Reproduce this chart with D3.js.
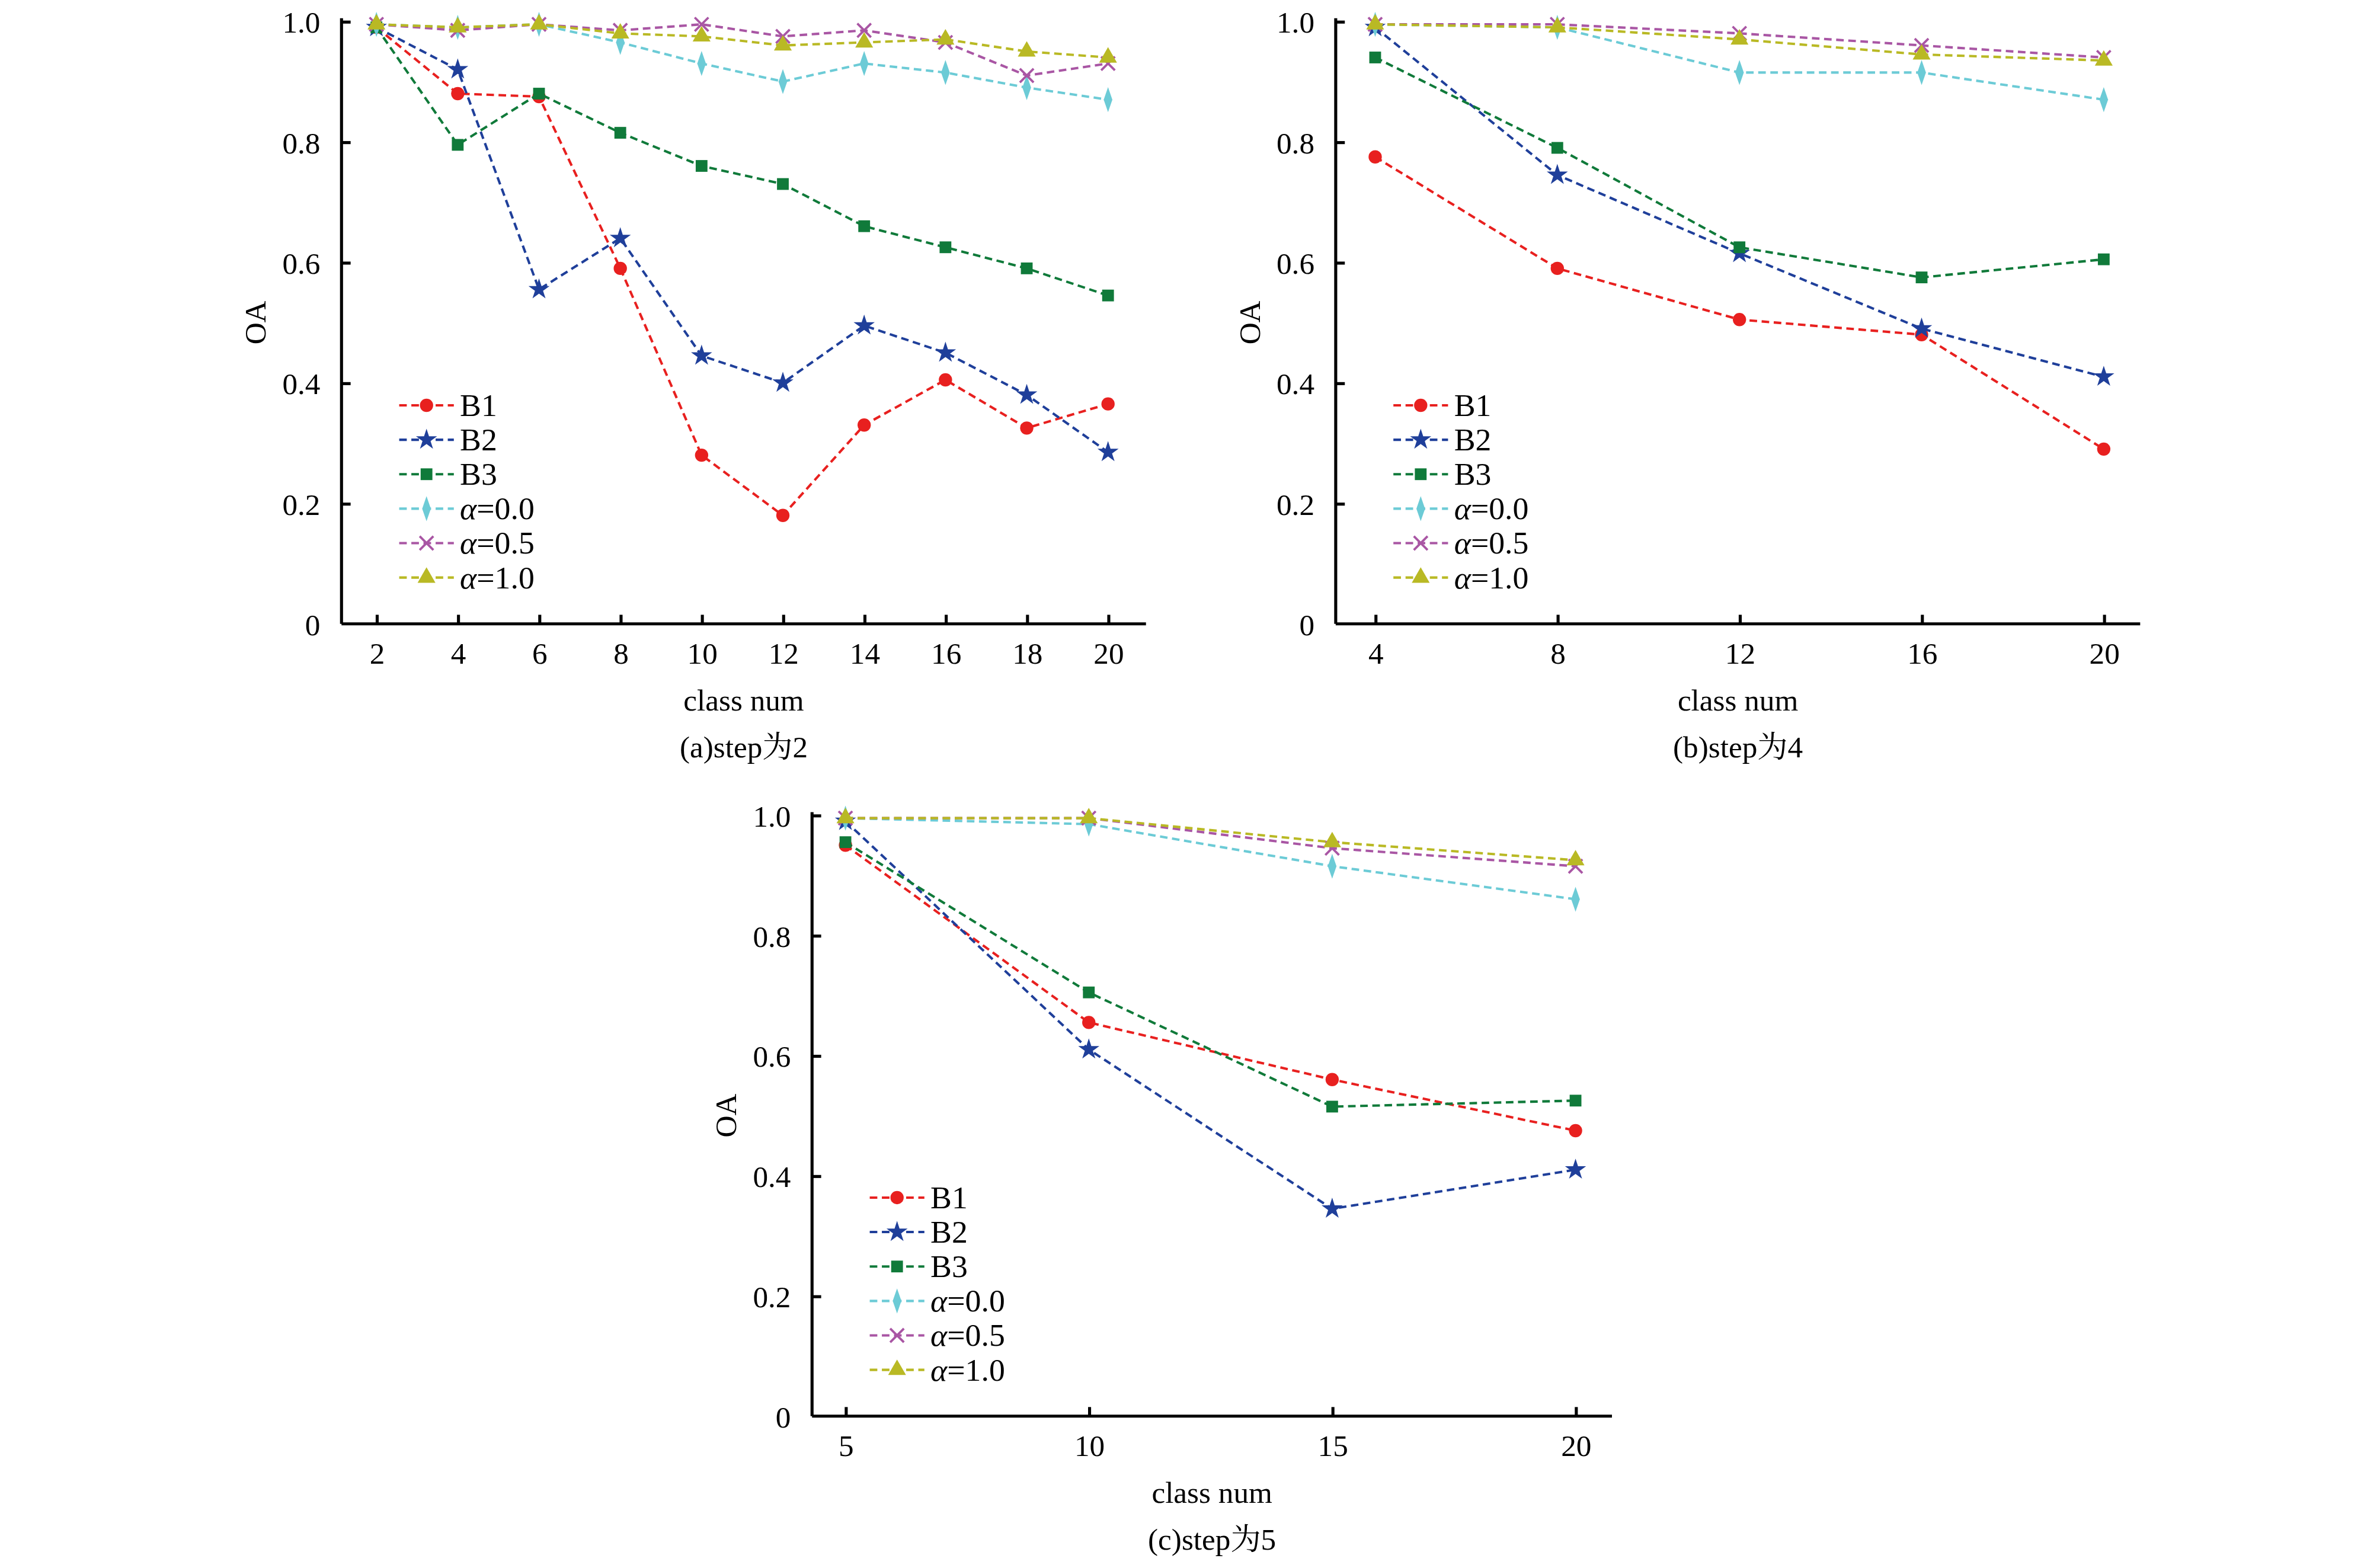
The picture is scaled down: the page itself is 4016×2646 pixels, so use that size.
<!DOCTYPE html>
<meta charset="utf-8">
<script src="https://d3js.org/d3.v7.min.js"></script>
<style>body{margin:0;background:#fff}</style>
<div id="chart"></div>
<script>
// series names / colours / marker shapes
var names = ["B1", "B2", "B3", "α=0.0", "α=0.5", "α=1.0"];
var colors = ["#e8201f", "#1f3f9a", "#107a3a", "#6ccbd6", "#a956a4", "#b9b924"];
var shapes = ["circle", "star", "square", "diamond", "cross", "triangle"];
var yTicks = [0, 0.2, 0.4, 0.6, 0.8, 1.0];

// panel (a) step 2
var xA = [2, 4, 6, 8, 10, 12, 14, 16, 18, 20];
var a_B1 = [0.99, 0.88, 0.875, 0.59, 0.28, 0.18, 0.33, 0.405, 0.325, 0.365];
var a_B2 = [0.99, 0.92, 0.555, 0.64, 0.445, 0.40, 0.495, 0.45, 0.38, 0.285];
var a_B3 = [0.99, 0.795, 0.88, 0.815, 0.76, 0.73, 0.66, 0.625, 0.59, 0.545];
var a_A0 = [0.995, 0.99, 0.995, 0.965, 0.93, 0.90, 0.93, 0.915, 0.89, 0.87];
var a_A5 = [0.995, 0.985, 0.995, 0.985, 0.995, 0.975, 0.985, 0.965, 0.91, 0.93];
var a_A1 = [0.995, 0.99, 0.995, 0.98, 0.975, 0.96, 0.965, 0.97, 0.95, 0.94];

// panel (b) step 4
var xB = [4, 8, 12, 16, 20];
var b_B1 = [0.775, 0.59, 0.505, 0.48, 0.29];
var b_B2 = [0.99, 0.745, 0.615, 0.49, 0.41];
var b_B3 = [0.94, 0.79, 0.625, 0.575, 0.605];
var b_A0 = [0.995, 0.99, 0.915, 0.915, 0.87];
var b_A5 = [0.995, 0.995, 0.98, 0.96, 0.94];
var b_A1 = [0.995, 0.99, 0.97, 0.945, 0.935];

// panel (c) step 5
var xC = [5, 10, 15, 20];
var c_B1 = [0.95, 0.655, 0.56, 0.475];
var c_B2 = [0.99, 0.61, 0.345, 0.41];
var c_B3 = [0.955, 0.705, 0.515, 0.525];
var c_A0 = [0.995, 0.985, 0.915, 0.86];
var c_A5 = [0.995, 0.995, 0.945, 0.915];
var c_A1 = [0.995, 0.995, 0.955, 0.925];

var FONT = "'Liberation Serif', 'Noto Serif CJK SC', 'Noto Sans CJK SC', serif";
var svg = d3.select("#chart").append("svg")
  .attr("width", 4016).attr("height", 2646)
  .attr("viewBox", "0 0 1568 1033")
  .style("font-family", FONT);

function symbolFor(s) {
  var t = {circle: d3.symbolCircle, star: d3.symbolStar, square: d3.symbolSquare,
           diamond: d3.symbolDiamond, cross: d3.symbolTimes, triangle: d3.symbolTriangle}[s];
  var size = {circle: 60, star: 60, square: 60, diamond: 50, cross: 55, triangle: 60}[s];
  return d3.symbol().type(t).size(size)();
}

function marker(g, s, color, x, y) {
  var p = g.append("path").attr("d", symbolFor(s))
    .attr("transform", "translate(" + x + "," + y + ")" + (s === "diamond" ? " scale(0.75,1.25)" : ""));
  if (s === "cross") p.attr("fill", "none").attr("stroke", color).attr("stroke-width", 1.5);
  else p.attr("fill", color);
}

function panel(p) {
  var g = svg.append("g");
  var x = d3.scaleLinear().domain([p.xs[0], p.xs[p.xs.length - 1]]).range([p.x0, p.x1]);
  var y = d3.scaleLinear().domain([0, 1]).range([p.bottom, p.top]);

  // axes (ticks point inward)
  var ax = g.append("g").attr("transform", "translate(0," + p.bottom + ")")
    .call(d3.axisBottom(x).tickValues(p.xs).tickSize(-6).tickPadding(12).tickFormat(d3.format("d")));
  ax.select(".domain").attr("d", "M" + p.left + ",0H" + p.right);
  var ay = g.append("g").attr("transform", "translate(" + p.left + ",0)")
    .call(d3.axisLeft(y).tickValues(yTicks).tickSize(-6).tickPadding(14)
      .tickFormat(function(d) { return d === 0 ? "0" : d3.format(".1f")(d); }));
  ay.select(".domain").attr("d", "M0," + p.bottom + "V" + (p.top - 2));
  ax.attr("font-family", FONT); ay.attr("font-family", FONT);
  g.selectAll(".domain").attr("stroke-width", 2);
  g.selectAll(".tick line").attr("stroke-width", 2);
  g.selectAll(".tick text").attr("font-size", 20).attr("fill", "#000");
  g.selectAll(".tick").filter(function(d) { return d === 0; }).select("line").remove();
  ay.selectAll(".tick text").attr("dy", "0.35em");

  g.append("text").attr("transform", "translate(" + (p.left - 50) + "," + ((p.top + p.bottom) / 2) + ") rotate(-90)")
    .attr("text-anchor", "middle").attr("font-size", 20).text("OA");
  g.append("text").attr("x", (p.left + p.right) / 2).attr("y", p.bottom + 57)
    .attr("text-anchor", "middle").attr("font-size", 20).text("class num");
  g.append("text").attr("x", (p.left + p.right) / 2).attr("y", p.bottom + 88)
    .attr("text-anchor", "middle").attr("font-size", 20).text(p.caption);

  var line = d3.line().x(function(d, i) { return x(p.xs[i]); }).y(function(d) { return y(d); });
  p.series.forEach(function(vals, k) {
    g.append("path").attr("d", line(vals)).attr("fill", "none")
      .attr("stroke", colors[k]).attr("stroke-width", 1.6).attr("stroke-dasharray", "5,3");
    vals.forEach(function(v, i) { marker(g, shapes[k], colors[k], x(p.xs[i]), y(v)); });
  });

  // legend
  var lx = p.left + 38, ly = p.bottom - 144;
  names.forEach(function(n, k) {
    var yy = ly + k * 22.7;
    g.append("line").attr("x1", lx).attr("x2", lx + 36).attr("y1", yy).attr("y2", yy)
      .attr("stroke", colors[k]).attr("stroke-width", 1.6).attr("stroke-dasharray", "5,3");
    marker(g, shapes[k], colors[k], lx + 18, yy);
    var t = g.append("text").attr("x", lx + 40).attr("y", yy + 7).attr("font-size", 21);
    if (n[0] === "α") {
      t.append("tspan").attr("font-style", "italic").text("α");
      t.append("tspan").text(n.slice(1));
    } else t.text(n);
  });
}

panel({xs: xA, series: [a_B1, a_B2, a_B3, a_A0, a_A5, a_A1], left: 225, right: 755, x0: 248, x1: 730,
       top: 14, bottom: 411, caption: "(a)step为2"});
panel({xs: xB, series: [b_B1, b_B2, b_B3, b_A0, b_A5, b_A1], left: 880, right: 1410, x0: 906, x1: 1386,
       top: 14, bottom: 411, caption: "(b)step为4"});
panel({xs: xC, series: [c_B1, c_B2, c_B3, c_A0, c_A5, c_A1], left: 535, right: 1062, x0: 557, x1: 1038,
       top: 537, bottom: 933, caption: "(c)step为5"});
</script>
